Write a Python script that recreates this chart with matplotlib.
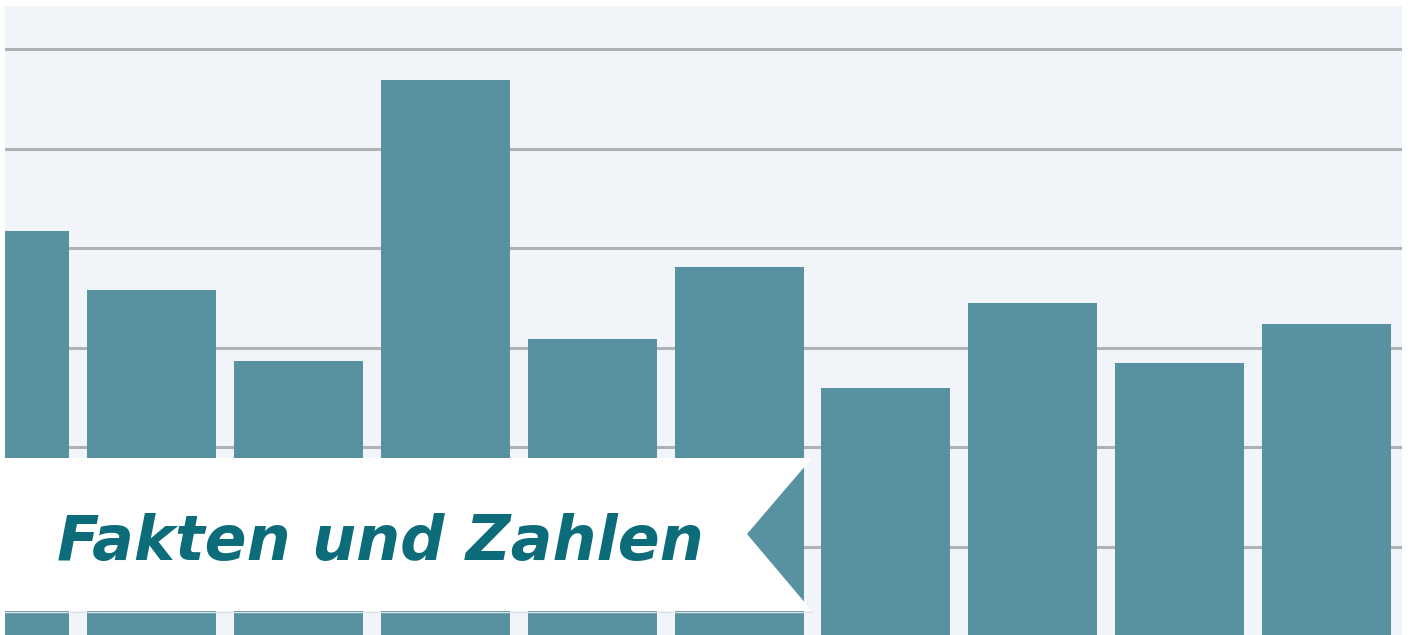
import matplotlib
matplotlib.use("Agg")
import matplotlib.pyplot as plt
from matplotlib.patches import Polygon

# Data
categories = ["A", "B", "C", "D", "E", "F", "G", "H", "I", "J"]
values = [4.17, 3.58, 2.87, 5.69, 3.09, 3.81, 2.60, 3.45, 2.85, 3.24]
grid_values = [1, 2, 3, 4, 5, 6]
title_text = "Fakten und Zahlen"

W, H = 1410, 635
BG = "#f1f5f9"
BAR = "#5892a0"
GRID = "#afb2b5"
TXT = "#0d6c79"

fig = plt.figure(figsize=(W / 100, H / 100), dpi=100, facecolor="white")
ax = fig.add_axes([5 / W, 0, (1402 - 5) / W, (635 - 6) / H])
ax.set_facecolor(BG)

x = list(range(len(categories)))
ax.bar(x, values, width=0.878, color=BAR, zorder=3)
ax.set_xlim(0.003, 9.513)
ax.set_ylim(0.118, 6.43)
ax.set_yticks(grid_values)
ax.yaxis.grid(True, color=GRID, linewidth=2.2, zorder=1)
ax.set_axisbelow(True)
ax.tick_params(left=False, bottom=False, labelleft=False, labelbottom=False)
for s in ax.spines.values():
    s.set_visible(False)


def px(xp, yp):
    return (xp / W, 1 - yp / H)


# Banner with notch
banner = Polygon([px(5, 458), px(812, 458), px(747, 534), px(812, 611), px(5, 611)],
                 closed=True, transform=fig.transFigure, facecolor="white",
                 edgecolor="none", zorder=10)
fig.patches.append(banner)
fig.lines.append(plt.Line2D([5 / W, 812 / W], [1 - 611.5 / H] * 2, transform=fig.transFigure,
                            color="#dfe3e7", linewidth=1.0, zorder=9))

t = fig.text(57 / W, 1 - 560 / H, title_text, color=TXT, fontsize=60,
             fontweight="bold", fontstyle="italic", family="DejaVu Sans",
             ha="left", va="baseline", zorder=11)
fig.canvas.draw()
bb = t.get_window_extent()
t.set_fontsize(60 * (705 - 57) / bb.width)

fig.savefig("out.png", dpi=100, facecolor="white")
